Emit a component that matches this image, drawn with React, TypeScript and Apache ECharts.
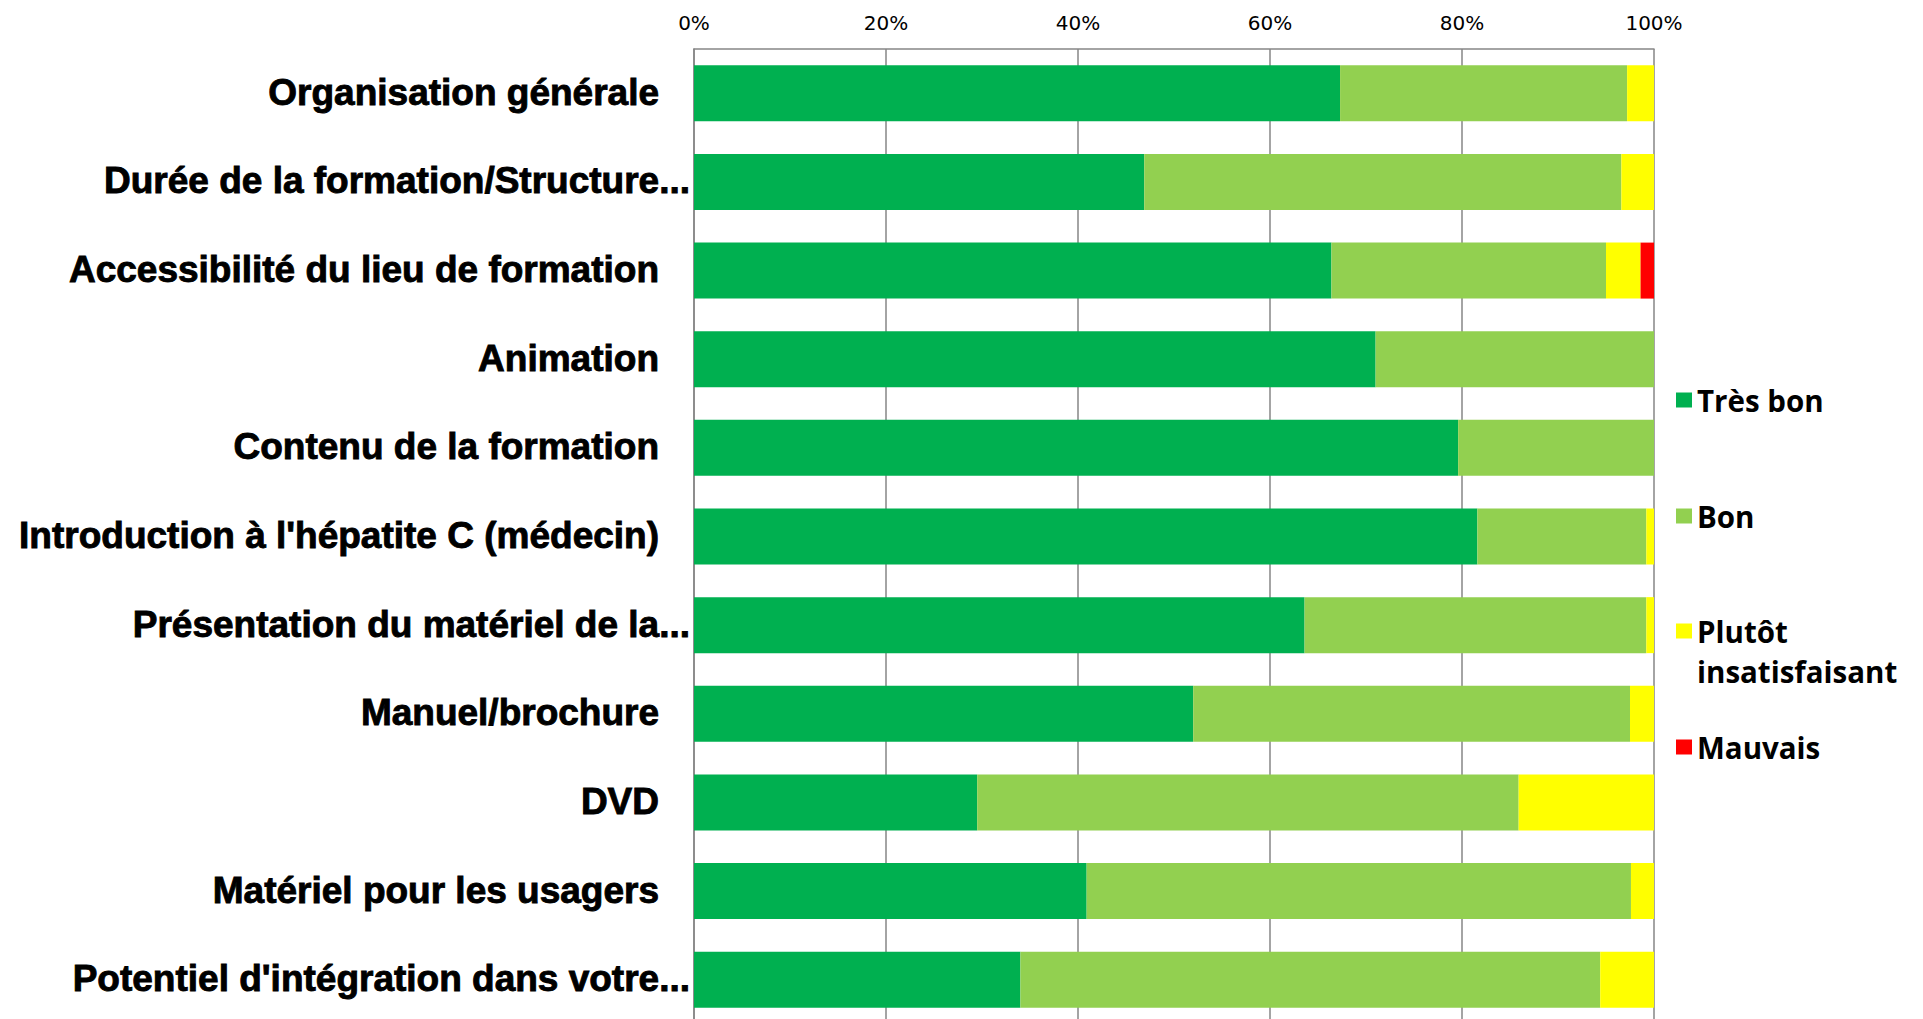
import React, { useEffect, useRef } from "react";
import * as echarts from "echarts";

const categories = [
  "Organisation générale",
  "Durée de la formation/Structure...",
  "Accessibilité du lieu de formation",
  "Animation",
  "Contenu de la formation",
  "Introduction à l'hépatite C (médecin)",
  "Présentation du matériel de la...",
  "Manuel/brochure",
  "DVD",
  "Matériel pour les usagers",
  "Potentiel d'intégration dans votre...",
];

const tresBon = [67.3, 46.9, 66.4, 71.0, 79.6, 81.6, 63.6, 52.0, 29.5, 40.9, 34.0];
const bon = [29.9, 49.7, 28.6, 29.0, 20.4, 17.6, 35.6, 45.5, 56.4, 56.7, 60.4];
const plutot = [2.8, 3.4, 3.6, 0, 0, 0.8, 0.8, 2.5, 14.1, 2.4, 5.6];
const mauvais = [0, 0, 1.4, 0, 0, 0, 0, 0, 0, 0, 0];

const seriesNames = ["Très bon", "Bon", "Plutôt insatisfaisant", "Mauvais"];
const seriesColors = ["#00B050", "#92D050", "#FFFF00", "#FF0000"];
const seriesData = [tresBon, bon, plutot, mauvais];
const xTicks = [0, 20, 40, 60, 80, 100];

export default function App() {
  const ref = useRef<HTMLDivElement>(null);

  useEffect(() => {
    if (!ref.current) return;
    const chart = echarts.init(ref.current, null, { renderer: "svg" });

    const labelFont = {
      fontFamily: "'Liberation Sans', Arial, sans-serif",
      fontWeight: "bold" as const,
      fontSize: 37,
      color: "#000000",
      textBorderColor: "#000000",
      textBorderWidth: 0.9,
    };
    const legendFont = {
      fontFamily: "'Open Sans', 'DejaVu Sans', sans-serif",
      fontWeight: "bold" as const,
      fontSize: 29.5,
      color: "#000000",
      lineHeight: 40,
    };
    const legendTops = [380, 496, 576, 727];

    const legends = seriesNames.map((name, i) => ({
      show: true,
      left: 1676,
      top: legendTops[i],
      padding: 0,
      itemWidth: 16,
      itemHeight: 15,
      icon: "rect",
      data: [name],
      formatter: (n: string) =>
        n === "Plutôt insatisfaisant" ? "{p|Plutôt\ninsatisfaisant}" : n,
      textStyle: {
        ...legendFont,
        rich: {
          p: { ...legendFont, padding: [40, 0, 0, 0] },
        },
      },
    }));

    chart.setOption({
      animation: false,
      backgroundColor: "#ffffff",
      legend: legends,
      grid: {
        left: 694,
        top: 49,
        width: 960,
        height: 975,
        containLabel: false,
        outerBoundsMode: "none",
      },
      xAxis: {
        type: "value",
        position: "top",
        min: 0,
        max: 100,
        interval: 20,
        axisLine: { show: true, lineStyle: { color: "#868686", width: 1.5 } },
        axisTick: { show: false },
        splitLine: { show: true, lineStyle: { color: "#868686", width: 1.5 } },
        axisLabel: {
          margin: 16,
          formatter: (v: number) => (xTicks.includes(v) ? `${v}%` : ""),
          fontFamily: "'DejaVu Sans', sans-serif",
          fontSize: 20,
          color: "#000000",
        },
      },
      yAxis: {
        type: "category",
        inverse: true,
        data: categories,
        axisLine: { show: true, lineStyle: { color: "#868686", width: 1.5 } },
        axisTick: { show: false },
        axisLabel: {
          margin: 4,
          ...labelFont,
          formatter: (v: string) =>
            v.endsWith("...") ? `{t|${v}}` : `{n|${v}}`,
          rich: {
            t: { ...labelFont, padding: [0, 0, 2, 0] },
            n: { ...labelFont, padding: [0, 31, 2, 0] },
          },
        },
      },
      series: seriesNames.map((name, i) => ({
        name,
        type: "bar",
        stack: "total",
        barWidth: 56,
        data: seriesData[i],
        itemStyle: { color: seriesColors[i] },
        emphasis: { disabled: true },
      })),
    });

    return () => chart.dispose();
  }, []);

  return (
    <div
      ref={ref}
      style={{ position: "fixed", left: 0, top: 0, width: 1923, height: 1019 }}
    />
  );
}
